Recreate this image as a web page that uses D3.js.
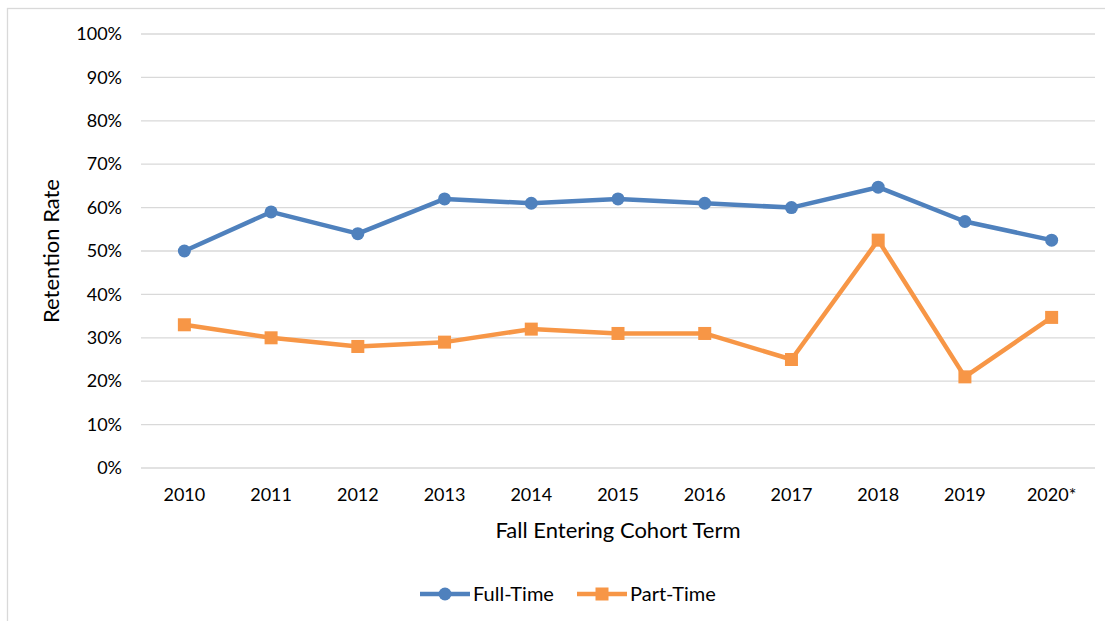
<!DOCTYPE html>
<html>
<head>
  <meta charset="utf-8">
  <style>
body { margin: 0; background: #fff; }
svg { font-family: Lato, "Open Sans", sans-serif; }
.grid line { stroke: #d9d9d9; stroke-width: 1.3; }
  </style>
</head>
<body>
  <svg id="chart" width="1105" height="621"></svg>
  <script src="https://cdn.jsdelivr.net/npm/d3@7"></script>
  <script>
// Data
var years = ["2010", "2011", "2012", "2013", "2014", "2015", "2016", "2017", "2018", "2019", "2020*"];
var fullTime = [50, 59, 54, 62, 61, 62, 61, 60, 64.7, 56.8, 52.5];
var partTime = [33, 30, 28, 29, 32, 31, 31, 25, 52.5, 21, 34.7];
var yTicks = [0, 10, 20, 30, 40, 50, 60, 70, 80, 90, 100];

var blue = "#4f81bd",
    orange = "#f79646";

var svg = d3.select("#chart");

// Outer chart border (cropped at right/bottom)
svg.append("rect")
  .attr("x", 7.5).attr("y", 8.5)
  .attr("width", 1110).attr("height", 630)
  .attr("fill", "none")
  .attr("stroke", "#d9d9d9")
  .attr("stroke-width", 1.3);

var x = d3.scaleBand().domain(years).range([141, 1095]);
var y = d3.scaleLinear().domain([0, 100]).range([468, 34]);

// Gridlines
svg.append("g")
  .attr("class", "grid")
  .selectAll("line")
  .data(yTicks)
  .enter().append("line")
    .attr("x1", 141).attr("x2", 1095)
    .attr("y1", function(d) { return y(d); })
    .attr("y2", function(d) { return y(d); });

// Y axis labels
var yAxis = svg.append("g")
  .attr("transform", "translate(141,0)")
  .call(d3.axisLeft(y).tickValues(yTicks).tickSize(0).tickPadding(19)
    .tickFormat(function(d) { return d + "%"; }));
yAxis.select(".domain").remove();

// X axis labels
var xAxis = svg.append("g")
  .attr("transform", "translate(0,468)")
  .call(d3.axisBottom(x).tickSize(0).tickPadding(20));
xAxis.select(".domain").remove();

svg.selectAll(".tick text")
  .attr("fill", "#000")
  .style("font-family", "Lato, sans-serif")
  .style("font-size", "18px");

// Axis titles
svg.append("text")
  .attr("transform", "translate(59,251) rotate(-90)")
  .attr("text-anchor", "middle")
  .attr("font-size", 22)
  .text("Retention Rate");

svg.append("text")
  .attr("x", 618).attr("y", 538)
  .attr("text-anchor", "middle")
  .attr("font-size", 22)
  .text("Fall Entering Cohort Term");

var line = d3.line()
  .x(function(d, i) { return x(years[i]) + x.bandwidth() / 2; })
  .y(function(d) { return y(d); });

// Full-Time series
svg.append("path")
  .datum(fullTime)
  .attr("fill", "none")
  .attr("stroke", blue)
  .attr("stroke-width", 4.5)
  .attr("stroke-linejoin", "round")
  .attr("d", line);

svg.append("g")
  .selectAll("circle")
  .data(fullTime)
  .enter().append("circle")
    .attr("cx", function(d, i) { return x(years[i]) + x.bandwidth() / 2; })
    .attr("cy", function(d) { return y(d); })
    .attr("r", 6.5)
    .attr("fill", blue);

// Part-Time series
svg.append("path")
  .datum(partTime)
  .attr("fill", "none")
  .attr("stroke", orange)
  .attr("stroke-width", 4.5)
  .attr("stroke-linejoin", "round")
  .attr("d", line);

svg.append("g")
  .selectAll("rect")
  .data(partTime)
  .enter().append("rect")
    .attr("x", function(d, i) { return x(years[i]) + x.bandwidth() / 2 - 6.5; })
    .attr("y", function(d) { return y(d) - 6.5; })
    .attr("width", 13).attr("height", 13)
    .attr("fill", orange);

// Legend
var legend = [
  {name: "Full-Time", color: blue, shape: "circle", x: 420},
  {name: "Part-Time", color: orange, shape: "square", x: 577}
];
var lg = svg.append("g")
  .selectAll("g")
  .data(legend)
  .enter().append("g")
    .attr("transform", function(d) { return "translate(" + d.x + ",594)"; });

lg.append("line")
  .attr("x1", 0).attr("x2", 50)
  .attr("stroke", function(d) { return d.color; })
  .attr("stroke-width", 4.5);

lg.filter(function(d) { return d.shape == "circle"; })
  .append("circle")
  .attr("cx", 25).attr("r", 6.5)
  .attr("fill", function(d) { return d.color; });

lg.filter(function(d) { return d.shape == "square"; })
  .append("rect")
  .attr("x", 18.5).attr("y", -6.5)
  .attr("width", 13).attr("height", 13)
  .attr("fill", function(d) { return d.color; });

lg.append("text")
  .attr("x", 53).attr("y", 7)
  .attr("font-size", 20)
  .text(function(d) { return d.name; });
  </script>
</body>
</html>
